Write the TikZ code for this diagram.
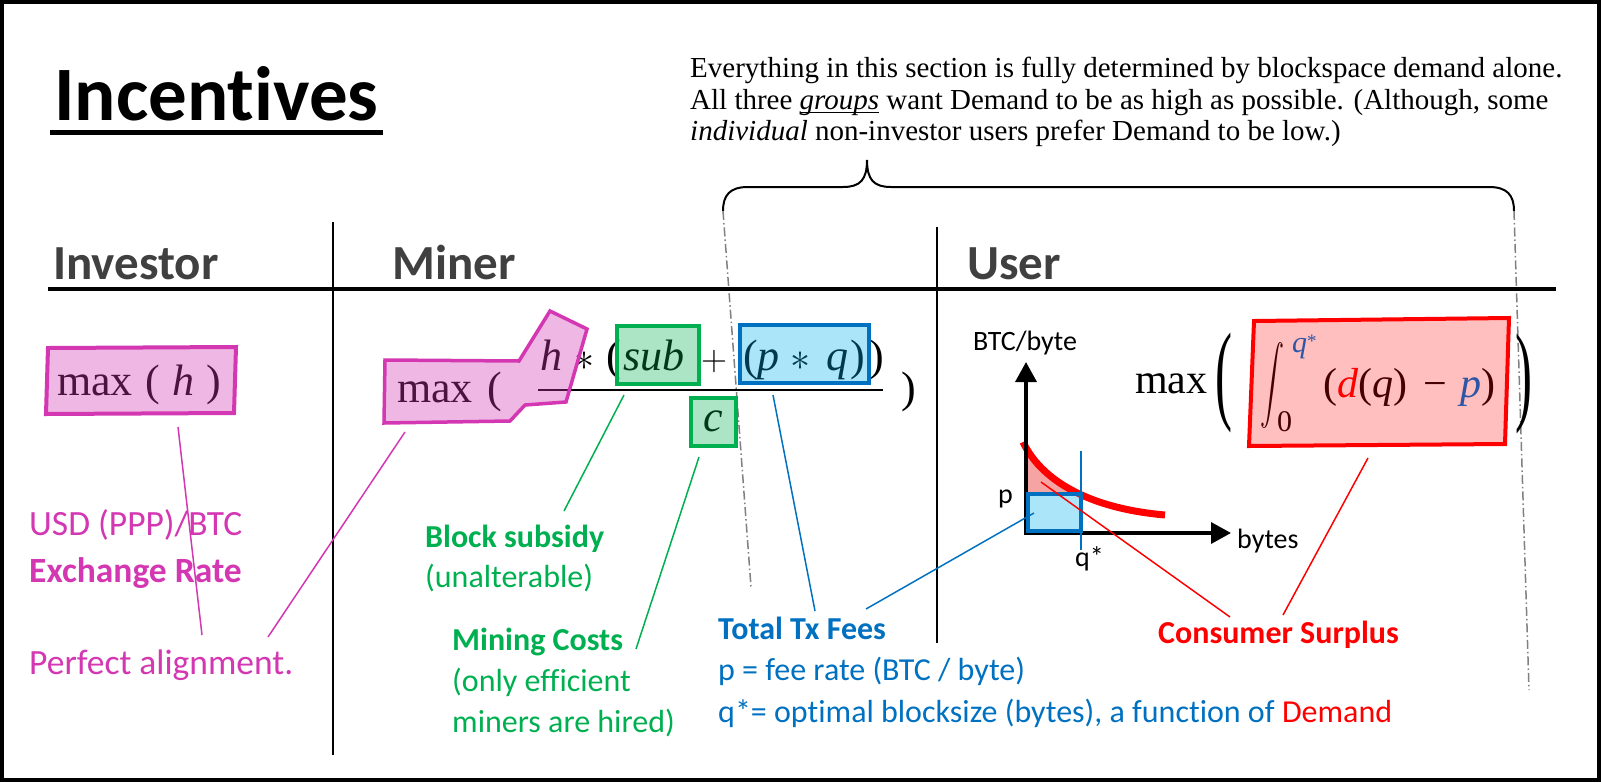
\RequirePackage{fix-cm}
\documentclass[tikz,border=0pt]{standalone}
\usepackage{amsmath}
\usepackage{graphicx}
\usepackage[no-math]{fontspec}
\setmainfont{Carlito}[Ligatures=NoCommon]
\newfontfamily\tnr{Liberation Serif}
\usetikzlibrary{arrows.meta}
\definecolor{mag}{RGB}{211,55,178}
\definecolor{grn}{RGB}{0,176,80}
\definecolor{blu}{RGB}{0,112,192}
\definecolor{lblu}{RGB}{0,176,240}
\definecolor{redc}{RGB}{255,0,0}
\definecolor{hdr}{RGB}{64,64,64}
\definecolor{ddash}{RGB}{128,128,128}
\definecolor{qblu}{RGB}{47,85,165}
\definecolor{redbox}{RGB}{255,191,191}
\definecolor{redarea}{RGB}{245,163,163}
\definecolor{darkred}{RGB}{70,0,0}
\newcommand\myul[1]{\setbox0\hbox{#1}\rlap{\rule[-4pt]{\wd0}{1.1pt}}\box0}
\tikzset{
  lbl/.style={anchor=base west, inner sep=0pt, font=\fontsize{32}{38}\selectfont},
  lblI/.style={anchor=base west, inner sep=0pt, font=\fontsize{35.5}{42}\selectfont},
  hdrs/.style={anchor=base west, inner sep=0pt, text=hdr, font=\fontsize{49}{58}\selectfont\bfseries},
  mt/.style={anchor=base west, inner sep=0pt, font=\tnr\fontsize{44}{52}\selectfont},
  mti/.style={anchor=base west, inner sep=0pt, font=\tnr\itshape\fontsize{44}{52}\selectfont},
  msym/.style={anchor=base west, inner sep=0pt, font=\fontsize{40}{48}\selectfont},
  toptxt/.style={anchor=base west, inner sep=0pt, font=\tnr\fontsize{29}{34}\selectfont},
  small/.style={anchor=base west, inner sep=0pt, font=\fontsize{28}{33}\selectfont},
  ldr/.style={line width=1.5pt},
  divider/.style={line width=1.5pt},
  ddline/.style={ddash, line width=1.5pt, dash pattern=on 9pt off 3pt on 1.5pt off 3pt},
}
\begin{document}
\begin{tikzpicture}[x=1pt,y=-1pt]
\useasboundingbox (0,0) rectangle (1601,782);
% frame
\draw[line width=4pt] (2,2) rectangle (1599,780);

% title
\node[anchor=base west, inner sep=0pt, font=\fontsize{77}{90}\selectfont\bfseries] (title) at (54,120) {Incentives};
\draw[line width=5pt] (50,132.5) -- (383,132.5);

% top note
\node[toptxt] (t1) at (690,77) {Everything in this section is fully determined by blockspace demand alone.};
\node[toptxt] (t2) at (690,109) {All three \myul{\textit{groups}}\ want Demand to be as high as possible. (Although, some};
\node[toptxt] (t3) at (690,140) {\textit{individual} non-investor users prefer Demand to be low.)};

% brace
\coordinate (brL) at (723,211);
\coordinate (brR) at (1514,211);
\coordinate (brT) at (867,160);
\draw[line width=2pt] (brL) .. controls (723,195) and (730,187) .. (748,187) -- (843,187)
  .. controls (860,187) and (867,180) .. (brT)
  .. controls (867,180) and (874,187) .. (891,187) -- (1489,187)
  .. controls (1507,187) and (1514,195) .. (brR);
\coordinate (ddL) at (751,587);
\coordinate (ddR) at (1529,690);
\draw[ddline] (brL) -- (ddL);
\draw[ddline] (brR) -- (ddR);

% headers and dividers
\node[hdrs] (hInv) at (53,279) {Investor};
\node[hdrs] (hMin) at (392,279) {Miner};
\node[hdrs] (hUsr) at (967,279) {User};
\draw[line width=3.5pt] (48,289) -- (1556,289);
\draw[divider] (333,222) -- (333,755);
\draw[divider] (937,227) -- (937,643);

% ---------------- Investor
\node[mt] (imax) at (57,395) {max};
\node[mt] (ilp) at (145,395) {(};
\node[mti] (ih) at (172,395) {h};
\node[mt] (irp) at (206,395) {)};
\filldraw[fill=mag, fill opacity=0.36, draw=mag, line width=4pt] (48,348) -- (236,347) -- (234,413) -- (46,414) -- cycle;
\node[lblI, text=mag] (usd) at (29,535) {USD (PPP)/BTC};
\node[lblI, text=mag, font=\fontsize{35.5}{42}\selectfont\bfseries] (exr) at (29,582) {Exchange Rate};
\node[lblI, text=mag] (perf) at (29,674) {Perfect alignment.};
\coordinate (i1a) at (178,427); \coordinate (i1b) at (202,635);
\coordinate (i2a) at (405,432); \coordinate (i2b) at (268,637);
\draw[ldr, mag] (i1a) -- (i1b);
\draw[ldr, mag] (i2a) -- (i2b);

% ---------------- Miner
\node[mt] (mmax) at (397,402) {max};
\node[mt] (mlp0) at (487,402) {(};
\node[mti] (mh) at (540,370) {h};
\node[msym] (mast) at (574,370) {$\ast$};
\node[mt] (mlp) at (606,370) {(};
\node[mti] (msub) at (623,370) {sub};
\node[msym, font=\fontsize{36}{42}\selectfont] (mplus) at (701,370) {$+$};
\node[mt] (mpl) at (743,370) {(};
\node[mti] (mp) at (757,370) {p};
\node[msym] (mast2) at (790,370) {$\ast$};
\node[mti] (mq) at (826,370) {q};
\node[mt] (mpr) at (850,370) {)};
\node[mt] (mrp) at (869,370) {)};
\draw[line width=2.8pt] (538,390) -- (883,390);
\node[mti, anchor=base] (mc) at (713,431) {c};
\node[mt] (mrp2) at (901,402) {)};
% overlays
\filldraw[fill=mag, fill opacity=0.36, draw=mag, line width=3.5pt]
  (385,360) -- (519,361) -- (550,311) -- (587,329) -- (566,402) -- (525,405) -- (510,421) -- (384,423) -- cycle;
\filldraw[fill=grn, fill opacity=0.33, draw=grn, line width=3.5pt] (617,326) rectangle (699,384);
\filldraw[fill=lblu, fill opacity=0.33, draw=blu, line width=4pt] (740,325) rectangle (869,383);
\filldraw[fill=grn, fill opacity=0.33, draw=grn, line width=3.5pt] (691,398) rectangle (736,446);
% labels
\node[lbl, text=grn, font=\fontsize{32}{38}\selectfont\bfseries] (bs) at (425,547) {Block subsidy};
\node[lbl, text=grn] (un) at (425,587) {(unalterable)};
\node[lbl, text=grn, font=\fontsize{32}{38}\selectfont\bfseries] (mc1) at (452,650) {Mining Costs};
\node[lbl, text=grn] (mc2) at (452,691) {(only efficient};
\node[lbl, text=grn] (mc3) at (452,732) {miners are hired)};
\coordinate (g1a) at (624,395); \coordinate (g1b) at (564,511);
\coordinate (g2a) at (699,457); \coordinate (g2b) at (636,649);
\coordinate (b1a) at (773,395); \coordinate (b1b) at (815,611);
\draw[ldr, grn] (g1a) -- (g1b);
\draw[ldr, grn] (g2a) -- (g2b);
\draw[ldr, blu] (b1a) -- (b1b);

\node[lbl, text=blu, font=\fontsize{32}{38}\selectfont\bfseries] (ttf) at (718,639) {Total Tx Fees};
\node[lbl, text=blu] (pfr) at (718,680) {p = fee rate (BTC / byte)};
\node[lbl, text=blu] (qopt) at (718,722) {q*= optimal blocksize (bytes), a function of \textcolor{redc}{Demand}};

% ---------------- User graph
\begin{scope}
\clip (1026,420) rectangle (1081,494);
\fill[redarea] (1023,442) .. controls (1040,478) and (1085,508) .. (1165,515) -- (1165,600) -- (1023,600) -- cycle;
\end{scope}
\draw[redc, line width=7pt] (1023,442) .. controls (1040,478) and (1085,508) .. (1165,515);
\coordinate (ytip) at (1026,362);
\coordinate (xtip) at (1231,533);
\draw[line width=3.5pt, -{Triangle[width=21pt,length=20pt]}] (1026,535) -- (ytip);
\draw[line width=3.5pt, -{Triangle[width=21pt,length=20pt]}] (1024,533) -- (xtip);
\filldraw[fill=lblu, fill opacity=0.33, draw=blu, line width=4pt] (1028,494) rectangle (1081,531);
\draw[blu, line width=2pt] (1081,451) -- (1081,550);
\node[small] (btcb) at (973,350) {BTC/byte};
\node[small] (bytes) at (1237,548) {bytes};
\node[small] (plab) at (998,503) {p};
\node[small] (qlab) at (1075,566) {q*};

% integral
\node[mt, font=\tnr\fontsize{42}{50}\selectfont] (umax) at (1135,393) {max};
\fill[redbox] (1254,321) -- (1509,318) -- (1505,444) -- (1249,446) -- cycle;
\node[inner sep=0pt, anchor=center] (ulp) at (1224,383) {\resizebox*{17pt}{100pt}{\tnr (}};
\node[inner sep=0pt, anchor=center] (urp) at (1524,384) {\resizebox*{17pt}{100pt}{\tnr )}};
\node[inner sep=0pt, anchor=center, text=darkred] (intg) at (1272,385) {\resizebox*{24pt}{86pt}{$\displaystyle\int$}};
\node[inner sep=0pt, anchor=base west, text=qblu, font=\tnr\fontsize{30}{36}\selectfont] (iup) at (1292,352) {\textit{q}\raisebox{5pt}{\fontsize{19}{22}\selectfont *}};
\node[inner sep=0pt, anchor=base west, text=darkred, font=\tnr\fontsize{30}{36}\selectfont] (ilo) at (1277,431) {0};
\node[mt, font=\tnr\fontsize{42}{50}\selectfont, text=darkred] (integ) at (1323,397)
  {(\textcolor{redc}{\textit{d}}(\textit{q})\hspace{16pt}−\hspace{14pt}\textcolor{qblu}{\textit{p}})};
\draw[redc, line width=4pt] (1254,321) -- (1509,318) -- (1505,444) -- (1249,446) -- cycle;

\node[lbl, text=redc, font=\fontsize{32}{38}\selectfont\bfseries] (cs) at (1158,643) {Consumer Surplus};
\coordinate (b2a) at (1034,513); \coordinate (b2b) at (866,609);
\coordinate (r1a) at (1041,482); \coordinate (r1b) at (1230,617);
\coordinate (r2a) at (1368,458); \coordinate (r2b) at (1283,615);
\draw[ldr, blu] (b2a) -- (b2b);
\draw[ldr, redc] (r1a) -- (r1b);
\draw[ldr, redc] (r2a) -- (r2b);
\end{tikzpicture}
\end{document}
